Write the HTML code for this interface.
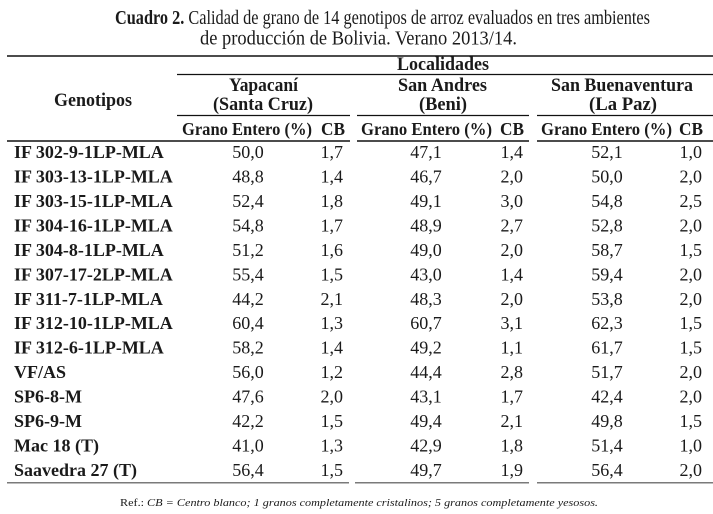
<!DOCTYPE html>
<html>
<head>
<meta charset="utf-8">
<style>
  html, body { margin: 0; padding: 0; background: #ffffff; }
  svg { display: block; }
  text { font-family: "Liberation Serif", serif; fill: #1a1a1a; }
  .hdr { font-weight: bold; font-size: 19px; }
  .sub { font-weight: bold; font-size: 18px; }
  .lab { font-weight: bold; font-size: 18px; }
  .val { font-size: 18px; }
</style>
</head>
<body>
<svg width="713" height="514" viewBox="0 0 713 514" xmlns="http://www.w3.org/2000/svg">
  <rect width="713" height="514" fill="#ffffff"/>

  <!-- Title -->
  <text x="115" y="24" font-size="19.5" textLength="535" lengthAdjust="spacingAndGlyphs"><tspan font-weight="bold">Cuadro 2.</tspan> Calidad de grano de 14 genotipos de arroz evaluados en tres ambientes</text>
  <text x="200" y="44.5" font-size="19.5" textLength="317" lengthAdjust="spacingAndGlyphs">de producción de Bolivia. Verano 2013/14.</text>

  <!-- Rules -->
  <line x1="7" y1="56" x2="713" y2="56" stroke="#111" stroke-width="1.6"/>
  <line x1="177" y1="74.5" x2="713" y2="74.5" stroke="#111" stroke-width="1.3"/>
  <line x1="177" y1="115.5" x2="350" y2="115.5" stroke="#111" stroke-width="1.3"/>
  <line x1="357" y1="115.5" x2="529" y2="115.5" stroke="#111" stroke-width="1.3"/>
  <line x1="537" y1="115.5" x2="713" y2="115.5" stroke="#111" stroke-width="1.3"/>
  <line x1="7" y1="141" x2="350" y2="141" stroke="#111" stroke-width="1.6"/>
  <line x1="357" y1="141" x2="529" y2="141" stroke="#111" stroke-width="1.6"/>
  <line x1="537" y1="141" x2="713" y2="141" stroke="#111" stroke-width="1.6"/>
  <line x1="7" y1="482.7" x2="349" y2="482.7" stroke="#7a7a7a" stroke-width="1.5"/>
  <line x1="355" y1="482.7" x2="529" y2="482.7" stroke="#7a7a7a" stroke-width="1.5"/>
  <line x1="537" y1="482.7" x2="713" y2="482.7" stroke="#7a7a7a" stroke-width="1.5"/>

  <!-- Header -->
  <text class="hdr" x="397" y="70" textLength="92" lengthAdjust="spacingAndGlyphs">Localidades</text>
  <text class="hdr" x="54" y="106" textLength="78" lengthAdjust="spacingAndGlyphs">Genotipos</text>

  <text class="hdr" x="229" y="91" textLength="69" lengthAdjust="spacingAndGlyphs">Yapacaní</text>
  <text class="hdr" x="213" y="110" textLength="100" lengthAdjust="spacingAndGlyphs">(Santa Cruz)</text>
  <text class="hdr" x="398" y="91" textLength="89" lengthAdjust="spacingAndGlyphs">San Andres</text>
  <text class="hdr" x="419" y="110" textLength="48" lengthAdjust="spacingAndGlyphs">(Beni)</text>
  <text class="hdr" x="551" y="91" textLength="142" lengthAdjust="spacingAndGlyphs">San Buenaventura</text>
  <text class="hdr" x="589" y="110" textLength="68" lengthAdjust="spacingAndGlyphs">(La Paz)</text>

  <text class="sub" x="182" y="135" textLength="130" lengthAdjust="spacingAndGlyphs">Grano Entero (%)</text>
  <text class="sub" x="321" y="135" textLength="24" lengthAdjust="spacingAndGlyphs">CB</text>
  <text class="sub" x="361" y="135" textLength="131" lengthAdjust="spacingAndGlyphs">Grano Entero (%)</text>
  <text class="sub" x="500" y="135" textLength="24" lengthAdjust="spacingAndGlyphs">CB</text>
  <text class="sub" x="541" y="135" textLength="131" lengthAdjust="spacingAndGlyphs">Grano Entero (%)</text>
  <text class="sub" x="679" y="135" textLength="24" lengthAdjust="spacingAndGlyphs">CB</text>

  <!-- Data rows -->
  <g>
    <text class="lab" x="14" y="158">IF 302-9-1LP-MLA</text>
    <text class="lab" x="14" y="182.46">IF 303-13-1LP-MLA</text>
    <text class="lab" x="14" y="206.92">IF 303-15-1LP-MLA</text>
    <text class="lab" x="14" y="231.38">IF 304-16-1LP-MLA</text>
    <text class="lab" x="14" y="255.84">IF 304-8-1LP-MLA</text>
    <text class="lab" x="14" y="280.3">IF 307-17-2LP-MLA</text>
    <text class="lab" x="14" y="304.76">IF 311-7-1LP-MLA</text>
    <text class="lab" x="14" y="329.22">IF 312-10-1LP-MLA</text>
    <text class="lab" x="14" y="353.68">IF 312-6-1LP-MLA</text>
    <text class="lab" x="14" y="378.14">VF/AS</text>
    <text class="lab" x="14" y="402.6">SP6-8-M</text>
    <text class="lab" x="14" y="427.06">SP6-9-M</text>
    <text class="lab" x="14" y="451.52">Mac 18 (T)</text>
    <text class="lab" x="14" y="475.98">Saavedra 27 (T)</text>
  </g>

  <!-- Yapacaní GE -->
  <g class="val" text-anchor="middle">
    <text x="248" y="158">50,0</text>
    <text x="248" y="182.46">48,8</text>
    <text x="248" y="206.92">52,4</text>
    <text x="248" y="231.38">54,8</text>
    <text x="248" y="255.84">51,2</text>
    <text x="248" y="280.3">55,4</text>
    <text x="248" y="304.76">44,2</text>
    <text x="248" y="329.22">60,4</text>
    <text x="248" y="353.68">58,2</text>
    <text x="248" y="378.14">56,0</text>
    <text x="248" y="402.6">47,6</text>
    <text x="248" y="427.06">42,2</text>
    <text x="248" y="451.52">41,0</text>
    <text x="248" y="475.98">56,4</text>
  </g>
  <!-- Yapacaní CB -->
  <g class="val" text-anchor="end">
    <text x="343" y="158">1,7</text>
    <text x="343" y="182.46">1,4</text>
    <text x="343" y="206.92">1,8</text>
    <text x="343" y="231.38">1,7</text>
    <text x="343" y="255.84">1,6</text>
    <text x="343" y="280.3">1,5</text>
    <text x="343" y="304.76">2,1</text>
    <text x="343" y="329.22">1,3</text>
    <text x="343" y="353.68">1,4</text>
    <text x="343" y="378.14">1,2</text>
    <text x="343" y="402.6">2,0</text>
    <text x="343" y="427.06">1,5</text>
    <text x="343" y="451.52">1,3</text>
    <text x="343" y="475.98">1,5</text>
  </g>

  <!-- San Andres GE -->
  <g class="val" text-anchor="middle">
    <text x="426" y="158">47,1</text>
    <text x="426" y="182.46">46,7</text>
    <text x="426" y="206.92">49,1</text>
    <text x="426" y="231.38">48,9</text>
    <text x="426" y="255.84">49,0</text>
    <text x="426" y="280.3">43,0</text>
    <text x="426" y="304.76">48,3</text>
    <text x="426" y="329.22">60,7</text>
    <text x="426" y="353.68">49,2</text>
    <text x="426" y="378.14">44,4</text>
    <text x="426" y="402.6">43,1</text>
    <text x="426" y="427.06">49,4</text>
    <text x="426" y="451.52">42,9</text>
    <text x="426" y="475.98">49,7</text>
  </g>
  <!-- San Andres CB -->
  <g class="val" text-anchor="end">
    <text x="523" y="158">1,4</text>
    <text x="523" y="182.46">2,0</text>
    <text x="523" y="206.92">3,0</text>
    <text x="523" y="231.38">2,7</text>
    <text x="523" y="255.84">2,0</text>
    <text x="523" y="280.3">1,4</text>
    <text x="523" y="304.76">2,0</text>
    <text x="523" y="329.22">3,1</text>
    <text x="523" y="353.68">1,1</text>
    <text x="523" y="378.14">2,8</text>
    <text x="523" y="402.6">1,7</text>
    <text x="523" y="427.06">2,1</text>
    <text x="523" y="451.52">1,8</text>
    <text x="523" y="475.98">1,9</text>
  </g>

  <!-- San Buenaventura GE -->
  <g class="val" text-anchor="middle">
    <text x="607" y="158">52,1</text>
    <text x="607" y="182.46">50,0</text>
    <text x="607" y="206.92">54,8</text>
    <text x="607" y="231.38">52,8</text>
    <text x="607" y="255.84">58,7</text>
    <text x="607" y="280.3">59,4</text>
    <text x="607" y="304.76">53,8</text>
    <text x="607" y="329.22">62,3</text>
    <text x="607" y="353.68">61,7</text>
    <text x="607" y="378.14">51,7</text>
    <text x="607" y="402.6">42,4</text>
    <text x="607" y="427.06">49,8</text>
    <text x="607" y="451.52">51,4</text>
    <text x="607" y="475.98">56,4</text>
  </g>
  <!-- San Buenaventura CB -->
  <g class="val" text-anchor="end">
    <text x="702" y="158">1,0</text>
    <text x="702" y="182.46">2,0</text>
    <text x="702" y="206.92">2,5</text>
    <text x="702" y="231.38">2,0</text>
    <text x="702" y="255.84">1,5</text>
    <text x="702" y="280.3">2,0</text>
    <text x="702" y="304.76">2,0</text>
    <text x="702" y="329.22">1,5</text>
    <text x="702" y="353.68">1,5</text>
    <text x="702" y="378.14">2,0</text>
    <text x="702" y="402.6">2,0</text>
    <text x="702" y="427.06">1,5</text>
    <text x="702" y="451.52">1,0</text>
    <text x="702" y="475.98">2,0</text>
  </g>

  <!-- Note -->
  <text x="120" y="506" font-size="11" textLength="478" lengthAdjust="spacingAndGlyphs">Ref.: <tspan font-style="italic">CB = Centro blanco; 1 granos completamente cristalinos; 5 granos completamente yesosos.</tspan></text>
</svg>
</body>
</html>
